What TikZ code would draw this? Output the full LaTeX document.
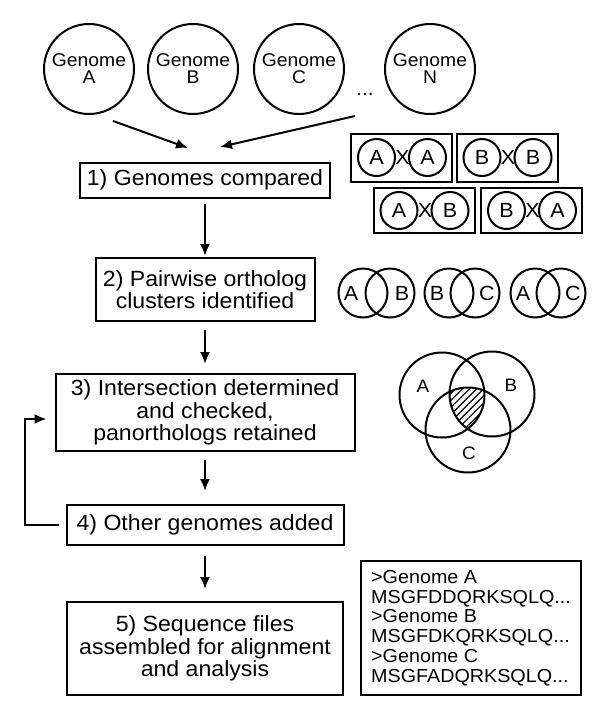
\documentclass[tikz,border=0pt]{standalone}
\usepackage{fontspec}
\setmainfont{Liberation Sans}[FakeStretch=1.05]
\usetikzlibrary{calc}
\usetikzlibrary{arrows.meta}
\usetikzlibrary{patterns.meta}

\begin{document}
\begin{tikzpicture}[x=1pt, y=1pt, line width=2pt, >={Latex[length=12pt,width=10pt]},
  genome/.style={shape=circle, draw, minimum size=90pt, inner sep=0pt, align=center, font=\fontsize{18.4}{17}\selectfont},
  stepbox/.style={shape=rectangle, draw, inner sep=0pt, align=center, font=\fontsize{22}{22.5}\selectfont},
  pairbox/.style={shape=rectangle, draw, minimum width=101pt, inner sep=0pt},
  ring/.style={shape=circle, draw, minimum size=37pt, inner sep=0pt, font=\fontsize{20.5}{20}\selectfont},
  lobe/.style={shape=circle, draw, minimum size=49pt, inner sep=0pt},
  letter/.style={inner sep=0pt, font=\fontsize{20.5}{20}\selectfont},
  vlabel/.style={inner sep=0pt, font=\fontsize{18}{18}\selectfont},
  flow/.style={->, line width=2pt}]
  \useasboundingbox (0,0) rectangle (600,-724);
  \path (89,-69)  node (gA) [genome] {Genome\\A};
  \path (193,-69) node (gB) [genome] {Genome\\B};
  \path (299,-69) node (gC) [genome] {Genome\\C};
  \path (430,-69) node (gN) [genome] {Genome\\N};
  \path (365,-94) node (dots) [inner sep=0pt, font=\fontsize{19.5}{19}\selectfont] {...};
  \coordinate (fromA) at (113,-121);
  \coordinate (fromN) at (355,-116);
  \coordinate (toA) at (188,-148);
  \coordinate (toN) at (220,-147);
  \draw [flow] (fromA) -- (toA);
  \draw [flow] (fromN) -- (toN);

  \path (205,-180) node (s1) [stepbox, minimum width=250pt, minimum height=35pt] {1) Genomes compared};
  \path (205,-289.5) node (s2) [stepbox, minimum width=219pt, minimum height=63pt, font=\fontsize{22}{20.5}\selectfont] {2) Pairwise ortholog\\clusters identified};
  \path (205,-412.5) node (s3) [stepbox, minimum width=299pt, minimum height=77pt] {3) Intersection determined\\and checked,\\panorthologs retained};
  \path (205,-525)   node (s4) [stepbox, minimum width=277pt, minimum height=40pt] {4) Other genomes added};
  \path (205,-648.5) node (s5) [stepbox, minimum width=276pt, minimum height=93pt] {5) Sequence files\\assembled for alignment\\and analysis};
  \draw [flow, shorten <=5pt, shorten >=1pt] (s1) -- (s2);
  \draw [flow, shorten <=8pt, shorten >=9pt] (s2) -- (s3);
  \draw [flow, shorten <=8pt, shorten >=13pt] (s3) -- (s4);
  \draw [flow, shorten <=10pt, shorten >=12pt] (s4) -- (s5);
  \coordinate (back) at (25,-419);
  \draw [flow, shorten <=7pt, shorten >=8pt] (s4.west) -| (back) -- (back -| s3.west);

  % pairwise comparisons
  \path (401.5,-157.5) node (pAA) [pairbox, minimum height=48pt] {};
  \path (507,-157.5)   node (pBB) [pairbox, minimum height=48pt] {};
  \path (424,-210.5)   node (pAB) [pairbox, minimum height=45pt] {};
  \path (531.5,-210.5) node (pBA) [pairbox, minimum height=45pt] {};
  \path (pAA) ++(-25,0) node (pAA1) [ring] {A} ++(26,0) node (pAAx) [letter] {X} ++(25,0) node (pAA2) [ring] {A};
  \path (pBB) ++(-25,0) node (pBB1) [ring] {B} ++(26,0) node (pBBx) [letter] {X} ++(25,0) node (pBB2) [ring] {B};
  \path (pAB) ++(-25,0) node (pAB1) [ring] {A} ++(26,0) node (pABx) [letter] {X} ++(25,0) node (pAB2) [ring] {B};
  \path (pBA) ++(-25,0) node (pBA1) [ring] {B} ++(26,0) node (pBAx) [letter] {X} ++(25,0) node (pBA2) [ring] {A};

  % ortholog pairs
  \path (363,-293) node (ab1) [lobe] {} (390,-293) node (ab2) [lobe] {};
  \path (449,-293) node (bc1) [lobe] {} (475,-293) node (bc2) [lobe] {};
  \path (535,-293) node (ac1) [lobe] {} (561,-293) node (ac2) [lobe] {};
  \path (351,-293) node (abA) [letter] {A} (402,-293) node (abB) [letter] {B};
  \path (437,-293) node (bcB) [letter] {B} (487,-293) node (bcC) [letter] {C};
  \path (523,-293) node (acA) [letter] {A} (573,-293) node (acC) [letter] {C};

  % intersection
  \coordinate (cA) at (442,-395);
  \coordinate (cB) at (492,-394);
  \coordinate (cC) at (468,-430);
  \begin{scope}
    \clip (cA) circle [radius=42.5];
    \clip (cB) circle [radius=42.5];
    \fill [pattern={Lines[angle=45,distance=5pt,line width=1.2pt]}] (cC) circle [radius=42.5];
  \end{scope}
  \draw (cA) circle [radius=42.5];
  \draw (cB) circle [radius=42.5];
  \draw (cC) circle [radius=42.5];
  \path (423,-386) node (vA) [vlabel] {A} (511,-385) node (vB) [vlabel] {B} (469,-453) node (vC) [vlabel] {C};

  \path (471,-628) node (seq) [draw, minimum width=220pt, minimum height=134pt, inner sep=0pt, align=left, font=\fontsize{18.8}{19.8}\selectfont] {>Genome A\\MSGFDDQRKSQLQ...\\>Genome B\\MSGFDKQRKSQLQ...\\>Genome C\\MSGFADQRKSQLQ...};
\end{tikzpicture}
\end{document}
